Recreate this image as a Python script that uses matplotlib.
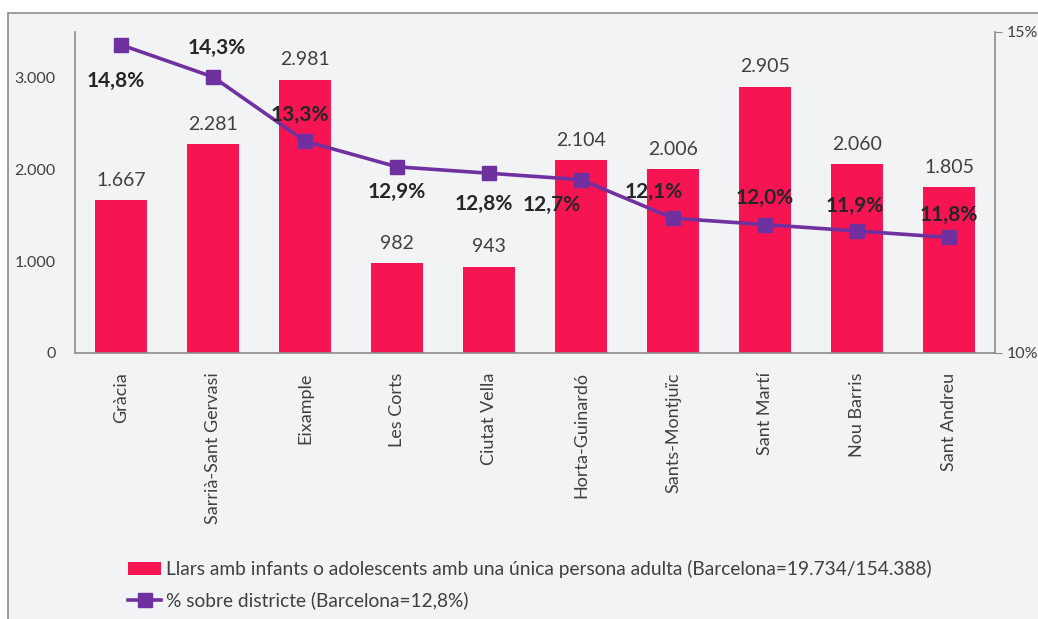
import numpy as np
import matplotlib.pyplot as plt
from matplotlib.patches import Rectangle
from matplotlib.ticker import FuncFormatter

districts = ['Gràcia', 'Sarrià-Sant Gervasi', 'Eixample', 'Les Corts', 'Ciutat Vella',
             'Horta-Guinardó', 'Sants-Montjuïc', 'Sant Martí', 'Nou Barris', 'Sant Andreu']
llars = [1667, 2281, 2981, 982, 943, 2104, 2006, 2905, 2060, 1805]
pct = [14.8, 14.3, 13.3, 12.9, 12.8, 12.7, 12.1, 12.0, 11.9, 11.8]

bar_label = 'Llars amb infants o adolescents amb una única persona adulta (Barcelona=19.734/154.388)'
line_label = '% sobre districte (Barcelona=12,8%)'

# label offsets (points) for the percentage labels
pct_offsets = [(-4, -26), (3, 21), (-4, 19), (0, -18), (-4, -22), (-21, -18),
               (-14, 19), (0, 19), (-2, 18), (0, 16)]

plt.rcParams['font.family'] = ['Lato', 'DejaVu Sans']
bar_color = '#F71452'
line_color = '#7030A0'
text_color = '#404040'

fig = plt.figure(figsize=(10.38, 6.19), dpi=100)
fig.patch.set_facecolor('white')
bg = Rectangle((8 / 1038, -0.05), 1.1, 1 - 13 / 619 + 0.05,
               transform=fig.transFigure, facecolor='#F2F3F5',
               edgecolor='#8C8C8C', linewidth=1.2, zorder=-10)
fig.add_artist(bg)

ax = fig.add_axes([75 / 1038, 1 - 353 / 619, 920 / 1038, 321 / 619])
ax.set_facecolor('none')
x = np.arange(len(districts))
bars = ax.bar(x, llars, width=0.565, color=bar_color, label=bar_label, zorder=2)
ax.set_xlim(-0.5, len(districts) - 0.5)
ax.set_ylim(0, 3500)
ax.set_yticks([0, 1000, 2000, 3000])
ax.yaxis.set_major_formatter(FuncFormatter(lambda v, p: f'{int(v):,}'.replace(',', '.')))
ax.tick_params(axis='y', length=0, pad=14, labelsize=11.5, labelcolor=text_color)
ax.set_xticks(x)
ax.set_xticklabels(districts, rotation=90, fontsize=13, color=text_color)
ax.tick_params(axis='x', length=0, pad=14)
for s in ['top', 'right']:
    ax.spines[s].set_visible(False)
for s in ['left', 'bottom']:
    ax.spines[s].set_color('#8C8C8C')
    ax.spines[s].set_linewidth(1.2)

for b, v in zip(bars, llars):
    ax.annotate(f'{v:,}'.replace(',', '.'), (b.get_x() + b.get_width() / 2, v),
                xytext=(0, 8), textcoords='offset points', ha='center', va='bottom',
                fontsize=14, color=text_color)

ax2 = ax.twinx()
ax2.set_ylim(10, 15)
ax2.set_yticks([10, 15])
ax2.yaxis.set_major_formatter(FuncFormatter(lambda v, p: f'{int(v)}%'))
ax2.tick_params(axis='y', length=5, color='#8C8C8C', labelsize=11.5, labelcolor=text_color)
for s in ['top', 'left', 'bottom']:
    ax2.spines[s].set_visible(False)
ax2.spines['right'].set_color('#8C8C8C')
ax2.spines['right'].set_linewidth(1.2)
line, = ax2.plot(x, pct, color=line_color, linewidth=2.6, marker='s', markersize=10,
                 label=line_label, zorder=3)
for xi, v, off in zip(x, pct, pct_offsets):
    ax2.annotate(f'{v:.1f}%'.replace('.', ','), (xi, v), xytext=off,
                 textcoords='offset points', ha='center', va='center',
                 fontsize=15, fontweight='bold', color='#262626')

fig.legend([bars, line], [bar_label, line_label], loc='upper left',
           bbox_to_anchor=(111 / 1038, 1 - 543 / 619), frameon=False, fontsize=13.8,
           labelcolor=text_color, handlelength=1.7, handletextpad=0.25, labelspacing=0.7)

fig.savefig('out.png', dpi=100)
